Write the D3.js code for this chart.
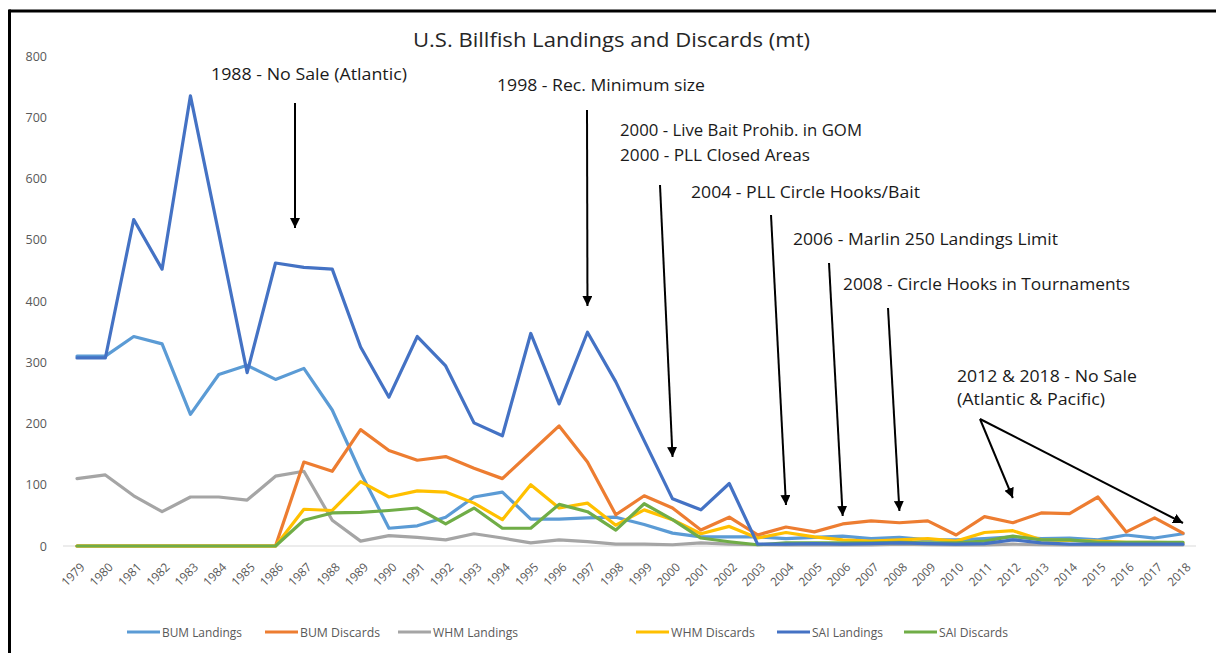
<!DOCTYPE html>
<html><head><meta charset="utf-8">
<script src="https://cdn.jsdelivr.net/npm/d3@7"></script>
<style>
html,body{margin:0;padding:0;background:#fff;}
svg{display:block;}
text{font-family:"Liberation Sans Narrow","Open Sans","DejaVu Sans Condensed",sans-serif;}
</style></head>
<body>
<svg id="chart" width="1216" height="653"></svg>
<script>
const years = d3.range(1979, 2019);
const bumLandings = [310,310,342,330,215,280,295,272,290,222,120,29,33,47,80,88,44,44,46,47,35,21,15,15,15,12,14,16,12,14,10,10,12,15,12,13,10,18,13,20];
const bumDiscards = [0,0,0,0,0,0,0,0,137,122,190,156,140,146,127,110,153,196,137,51,82,62,26,47,18,31,23,36,41,38,41,18,48,38,54,53,80,23,46,21];
const whmLandings = [110,116,82,56,80,80,75,114,122,42,8,17,14,10,20,13,5,10,7,3,3,2,5,3,2,2,2,2,2,3,2,2,2,3,2,2,2,2,2,2];
const whmDiscards = [0,0,0,0,0,0,0,0,60,58,105,80,90,88,70,43,100,62,70,34,59,43,20,32,13,22,15,10,8,10,12,8,22,25,10,9,8,6,6,5];
const saiLandings = [307,307,533,452,735,510,283,462,455,452,325,243,342,294,201,180,347,232,349,268,172,77,59,102,3,3,4,3,4,5,4,3,4,10,5,3,3,3,3,3];
const saiDiscards = [0,0,0,0,0,0,0,0,42,54,55,58,62,36,62,29,29,68,56,26,69,43,13,7,2,5,5,5,5,6,5,5,8,16,10,10,6,6,6,6];
const yTicks = [0,100,200,300,400,500,600,700,800];
const seriesNames = ["BUM Landings","BUM Discards","WHM Landings","WHM Discards","SAI Landings","SAI Discards"];
const seriesColors = ["#5B9BD5","#ED7D31","#A5A5A5","#FFC000","#4472C4","#70AD47"];
const seriesValues = [bumLandings,bumDiscards,whmLandings,whmDiscards,saiLandings,saiDiscards];
const annotations = [
  {lines:["1988 - No Sale (Atlantic)"], x:211, y:75, w:196},
  {lines:["1998 - Rec. Minimum size"], x:497, y:86, w:208},
  {lines:["2000 - Live Bait Prohib. in GOM","2000 - PLL Closed Areas"], x:620, y:131, w:[242,190], dy:25},
  {lines:["2004 - PLL Circle Hooks/Bait"], x:691, y:193, w:229},
  {lines:["2006 - Marlin 250 Landings Limit"], x:793, y:240, w:265},
  {lines:["2008 - Circle Hooks in Tournaments"], x:843, y:285, w:287},
  {lines:["2012 & 2018 - No Sale","(Atlantic & Pacific)"], x:957, y:377, w:[180,148], dy:23}
];
const arrows = [
  {x1:295, y1:103, x2:295, y2:228},
  {x1:587, y1:110, year:1997, y2:306},
  {x1:660, y1:185, year:2000, y2:457},
  {x1:771, y1:215, year:2004, y2:505},
  {x1:829, y1:263, year:2006, y2:516},
  {x1:888, y1:308, year:2008, y2:511},
  {x1:980, y1:419, year:2012, y2:498},
  {x1:980, y1:419, year:2018, y2:523}
];

const svg = d3.select("#chart");
const x = d3.scalePoint().domain(years).range([77, 1183]);
const y = d3.scaleLinear().domain([0,800]).range([546, 56]);

// frame
svg.append("line").attr("x1",9).attr("x2",1216).attr("y1",11).attr("y2",11).attr("stroke","#000").attr("stroke-width",3);
svg.append("line").attr("x1",9.5).attr("x2",9.5).attr("y1",9.5).attr("y2",653).attr("stroke","#000").attr("stroke-width",3);

// title
svg.append("text").attr("x",413).attr("y",47).attr("font-size",20).attr("fill","#262626")
  .attr("textLength",397).attr("lengthAdjust","spacingAndGlyphs")
  .text("U.S. Billfish Landings and Discards (mt)");

// y axis labels
const yAxis = d3.axisLeft(y).tickValues(yTicks).tickSize(0).tickPadding(0);
const yg = svg.append("g").attr("transform","translate(47,0)").call(yAxis);
yg.select(".domain").remove();
yg.selectAll("text").attr("font-size",12.5).attr("fill","#595959").attr("font-family","'Open Sans',sans-serif");

// baseline
svg.append("line").attr("x1",63).attr("x2",1196).attr("y1",y(0)).attr("y2",y(0)).attr("stroke","#D9D9D9").attr("stroke-width",1);

// x axis labels
const xAxis = d3.axisBottom(x).tickSize(0).tickPadding(0);
const xg = svg.append("g").attr("transform","translate(0,"+(y(0))+")").call(xAxis);
xg.select(".domain").remove();
xg.selectAll("text").attr("font-size",12).attr("fill","#595959").attr("font-family","'Open Sans',sans-serif")
  .attr("text-anchor","end").attr("dy",null).attr("y",null)
  .attr("textLength",27).attr("lengthAdjust","spacingAndGlyphs")
  .attr("transform","translate(8,22) rotate(-45)");

// lines
const line = d3.line().x((d,i)=>x(years[i])).y(d=>y(d));
const order = [2,0,1,3,5,4];
order.forEach(k=>{
  svg.append("path").datum(seriesValues[k]).attr("d",line)
    .attr("fill","none").attr("stroke",seriesColors[k]).attr("stroke-width",3.2)
    .attr("stroke-linejoin","round").attr("stroke-linecap","round");
});

// annotations
annotations.forEach(a=>{
  a.lines.forEach((t,i)=>{
    const w = Array.isArray(a.w)?a.w[i]:a.w;
    svg.append("text").attr("x",a.x).attr("y",a.y+5+(i*(a.dy||0))).attr("font-size",15.5).attr("fill","#1a1a1a")
      .attr("textLength",w).attr("lengthAdjust","spacingAndGlyphs").text(t);
  });
});

// arrows
const defs = svg.append("defs");
defs.append("marker").attr("id","ah").attr("viewBox","0 0 10 10").attr("refX",10).attr("refY",5)
  .attr("markerWidth",5).attr("markerHeight",5).attr("markerUnits","strokeWidth").attr("orient","auto")
  .append("path").attr("d","M0,0 L10,5 L0,10 z").attr("fill","#000");
arrows.forEach(a=>{
  const tx = a.year!==undefined ? x(a.year) : a.x2;
  svg.append("line").attr("x1",a.x1).attr("y1",a.y1).attr("x2",tx).attr("y2",a.y2)
    .attr("stroke","#000").attr("stroke-width",2).attr("marker-end","url(#ah)");
});

// legend
const legendX = [127,265,398,636,777,904];
const legendW = [80,80,85,84,71,69];
seriesNames.forEach((n,i)=>{
  const g = svg.append("g").attr("transform","translate("+legendX[i]+",632)");
  g.append("line").attr("x1",0).attr("x2",33).attr("y1",0).attr("y2",0).attr("stroke",seriesColors[i]).attr("stroke-width",3);
  g.append("text").attr("x",35).attr("y",4.5).attr("font-size",13.5).attr("fill","#595959")
    .attr("textLength",legendW[i]).attr("lengthAdjust","spacingAndGlyphs").text(n);
});
</script>
</body></html>
